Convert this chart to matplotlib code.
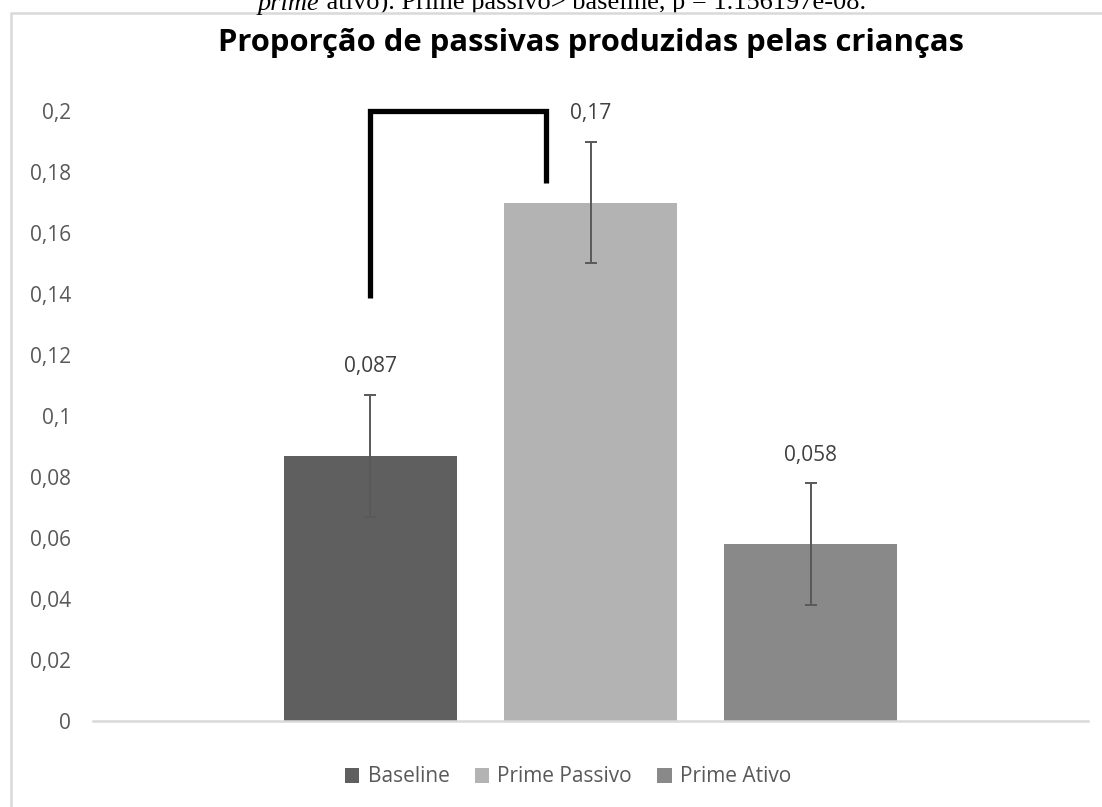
import matplotlib
matplotlib.use("Agg")
from matplotlib import pyplot as plt
from matplotlib.patches import Rectangle

# dados do gráfico
categorias = ["Baseline", "Prime Passivo", "Prime Ativo"]
proporcoes = [0.087, 0.17, 0.058]
erros = [0.02, 0.02, 0.02]
rotulos = ["0,087", "0,17", "0,058"]
cores = ["#5f5f5f", "#b3b3b3", "#898989"]
yticks = [0, 0.02, 0.04, 0.06, 0.08, 0.1, 0.12, 0.14, 0.16, 0.18, 0.2]
ytick_labels = ["0", "0,02", "0,04", "0,06", "0,08", "0,1", "0,12", "0,14", "0,16", "0,18", "0,2"]
# colchete de significância (Baseline x Prime Passivo)
colchete_x = [0, 0, 0.8, 0.8]
colchete_y = [0.1386, 0.2, 0.2, 0.1764]

plt.rcParams["font.family"] = ["Open Sans", "DejaVu Sans"]
cinza = "#595959"

fig = plt.figure(figsize=(11.02, 8.07), dpi=100)
ax = fig.add_axes([93 / 1102, 86 / 807, 995 / 1102, 610 / 807])

x = range(len(categorias))
for i in x:
    ax.bar(i, proporcoes[i], width=0.786, color=cores[i], label=categorias[i], zorder=2)
    ax.errorbar(i, proporcoes[i], yerr=erros[i], color=cinza, lw=1.4,
                capsize=4.5, capthick=1.4, zorder=3)
    ax.annotate(rotulos[i], xy=(i, proporcoes[i]), xytext=(0, 64),
                textcoords="offset points", ha="center", va="center",
                fontsize=15, color="#404040")

ax.plot(colchete_x, colchete_y, color="black", lw=3.8, solid_capstyle="butt",
        solid_joinstyle="miter", clip_on=False, zorder=4)

ax.set_xlim(-1.261, 3.261)
ax.set_ylim(0, 0.2)
ax.set_yticks(yticks)
ax.set_yticklabels(ytick_labels)
ax.set_xticks([])
ax.tick_params(axis="y", length=0, pad=16, labelsize=15, labelcolor=cinza)
for s in ["top", "right", "left"]:
    ax.spines[s].set_visible(False)
ax.spines["bottom"].set_color("#d9d9d9")
ax.spines["bottom"].set_linewidth(1.8)

leg = fig.legend(*ax.get_legend_handles_labels(), loc="center",
                 bbox_to_anchor=(568 / 1102, 1 - 777 / 807),
                 ncol=3, frameon=False, fontsize=15, handlelength=0.7,
                 handleheight=0.7, handletextpad=0.4, columnspacing=1.2)
for t in leg.get_texts():
    t.set_color(cinza)

fig.text(591 / 1102, 1 - 51 / 807, "Proporção de passivas produzidas pelas crianças",
         ha="center", va="baseline", fontsize=22.3, fontweight="bold", color="black")

# moldura do gráfico
fig.patches.append(Rectangle((11 / 1102, -0.1), 1.2, 1 - 13 / 807 + 0.1,
                             transform=fig.transFigure, fill=False,
                             edgecolor="#d9d9d9", lw=1.8))

# texto cortado do documento acima do gráfico
t1 = fig.text(258 / 1102, 1 - 10 / 807, "prime", ha="left", va="baseline",
              fontsize=19, style="italic", family="Liberation Serif")
ax.annotate(" ativo). Prime passivo> baseline, p = 1.156197e-08.",
            xy=(1, 0), xycoords=t1, ha="left", va="bottom",
            fontsize=19, family="Liberation Serif", annotation_clip=False)

fig.savefig("out.png", dpi=100)
